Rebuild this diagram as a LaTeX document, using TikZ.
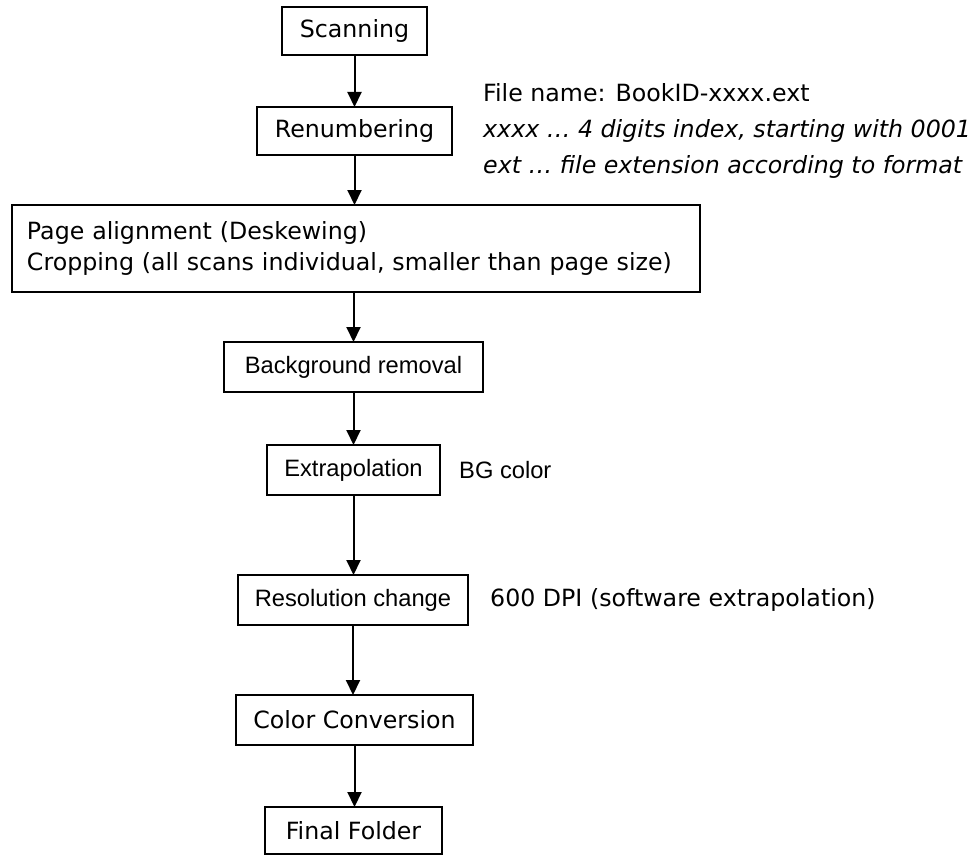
\documentclass[tikz,border=0pt]{standalone}
\usepackage{fontspec}
\setmainfont{DejaVu Sans}
\newfontfamily\arialf{Liberation Sans}
\usetikzlibrary{arrows.meta}
\tikzset{
  stepbox/.style={draw, line width=2pt, inner sep=0pt, outer sep=0pt,
    font=\fontsize{23.7}{30}\selectfont},
  arialbox/.style={stepbox, font=\arialf\fontsize{23.7}{30}\selectfont},
  note/.style={inner sep=0pt, anchor=west, align=left},
  arr/.style={line width=2pt, -{Triangle[length=15pt,width=14pt]}}
}
\begin{document}
\begin{tikzpicture}[x=1pt,y=-1pt]
\useasboundingbox (0,0) rectangle (979,856);
\node[stepbox, minimum width=145pt, minimum height=48pt] (scan) at (354.5,31) {Scanning};
\node[stepbox, minimum width=195pt, minimum height=48pt] (renum) at (354.5,131) {Renumbering};
\node[stepbox, minimum width=688pt, minimum height=87pt, text width=658pt, align=left,
      font=\fontsize{23.7}{31}\selectfont] (page) at (356,248.5)
  {Page alignment (Deskewing)\\Cropping (all scans individual, smaller than page size)};
\node[arialbox, minimum width=259pt, minimum height=50pt] (bg) at (353.5,367) {Background removal};
\node[arialbox, minimum width=173pt, minimum height=50pt] (extr) at (353.5,470) {Extrapolation};
\node[arialbox, minimum width=230pt, minimum height=50pt] (res) at (353,600) {Resolution change};
\node[stepbox, minimum width=237pt, minimum height=50pt] (color) at (354.5,720) {Color Conversion};
\node[stepbox, minimum width=177pt, minimum height=47pt] (final) at (353.5,830.5) {Final Folder};

\node[note, font=\fontsize{23.7}{36}\selectfont] (fname) at (483,131)
  {File name: BookID-xxxx.ext\\
   \textit{xxxx … 4 digits index, starting with 0001}\\
   \textit{ext … file extension according to format}};
\node[note, font=\arialf\fontsize{23.7}{30}\selectfont] (bgc) at (459,470) {BG color};
\node[note, font=\fontsize{23.7}{30}\selectfont] (dpi) at (490,600) {600 DPI (software extrapolation)};

\draw[arr] (scan.south) -- (scan.south |- renum.north);
\draw[arr] (renum.south) -- (renum.south |- page.north);
\draw[arr] (page.south -| bg.north) -- (bg.north);
\draw[arr] (bg.south) -- (bg.south |- extr.north);
\draw[arr] (extr.south) -- (extr.south |- res.north);
\draw[arr] (res.south) -- (res.south |- color.north);
\draw[arr] (color.south) -- (color.south |- final.north);
\end{tikzpicture}
\end{document}
